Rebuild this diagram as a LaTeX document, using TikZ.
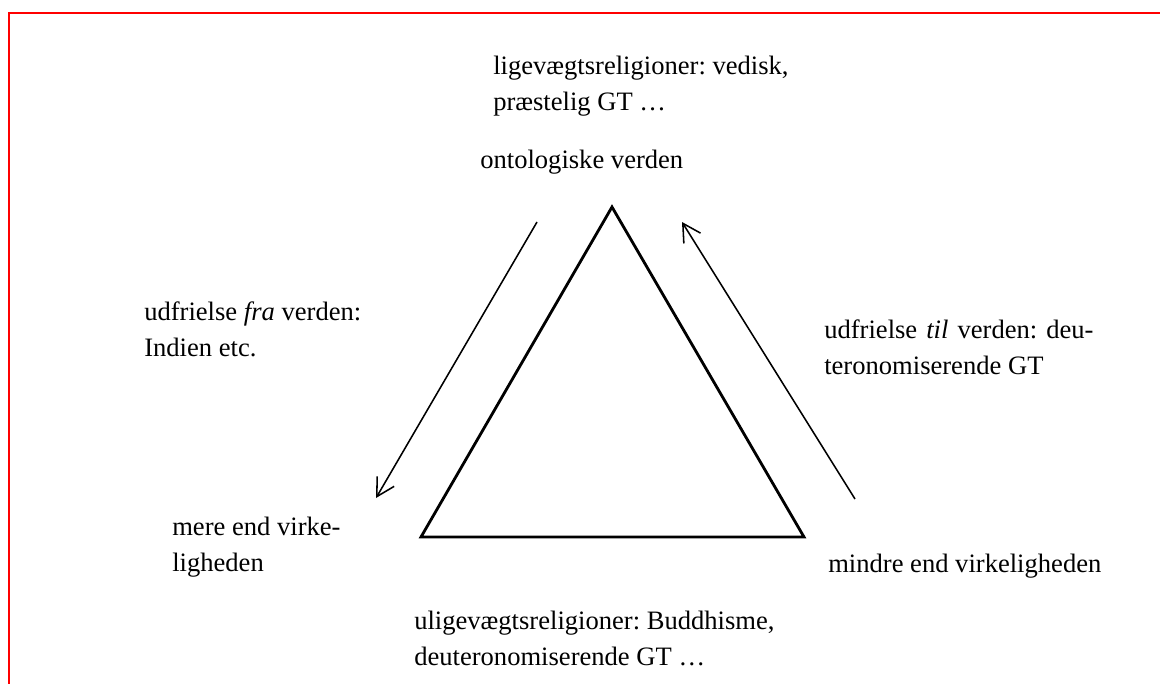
\documentclass[tikz,border=0pt]{standalone}
\usepackage{fontspec}
\setmainfont{Liberation Serif}
\usepackage{xcolor}
\usepackage{tikz}
\usetikzlibrary{arrows.meta}
\definecolor{framered}{RGB}{255,0,0}
\frenchspacing

\begin{document}
\begin{tikzpicture}[
        x=0.025cm, y=-0.025cm,
        lbl/.style = {anchor=base west, inner sep=0pt, align=left, font=\fontsize{18.9pt}{24.9pt}\selectfont},
        frame/.style = {draw=framered, line width=1.4pt},
        tri/.style = {draw=black, line width=2pt, line join=miter},
        arrow/.style = {draw=black, line width=1.1pt, -{Straight Barb[length=0.44cm, width=0.49cm, line width=1.1pt]}}
    ]
        \useasboundingbox (0,0) rectangle (1160,684);

        % === Frame ===
        \draw [frame] (9,684) -- (9,13) -- (1160,13);

        % === Triangle ===
        \coordinate (apex) at (612,207);
        \coordinate (baseL) at (421,537);
        \coordinate (baseR) at (804,537);
        \draw [tri] (apex) -- (baseL) -- (baseR) -- cycle;

        % === Labels (placed at last baseline) ===
        \node (ligevaegt) [lbl] at (493,110) {ligevægtsreligioner: vedisk,\\præstelig GT …};
        \node (ontologisk) [lbl] at (480,168) {ontologiske verden};
        \node (udfra) [lbl] at (144,356) {udfrielse \textit{fra} verden:\\Indien etc.};
        \node (udtil) [lbl] at (824,374) {\makebox[6.73cm][s]{udfrielse \textit{til} verden: deu-}\\teronomiserende GT};
        \node (mere) [lbl] at (172,571) {mere end virke-\\ligheden};
        \node (mindre) [lbl] at (828,572) {mindre end virkeligheden};
        \node (uligevaegt) [lbl] at (414,665) {uligevægtsreligioner: Buddhisme,\\deuteronomiserende GT …};

        % === Arrows ===
        \coordinate (fraStart) at (537,222);
        \coordinate (fraEnd) at (376,498);
        \coordinate (tilStart) at (855,499);
        \coordinate (tilEnd) at (682,222);
        \draw [arrow] (fraStart) -- (fraEnd);
        \draw [arrow] (tilStart) -- (tilEnd);

    \end{tikzpicture}
\end{document}
